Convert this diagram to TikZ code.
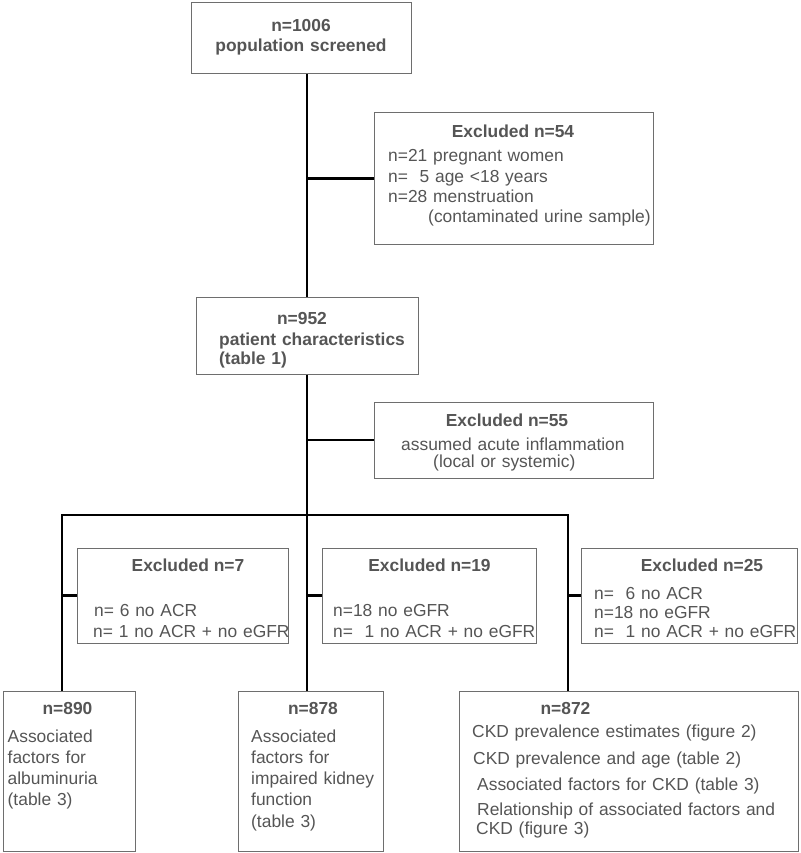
\documentclass[tikz,border=0pt]{standalone}
\usepackage{fontspec}
\setmainfont{Liberation Sans}
\usepackage{xcolor}
\usepackage{tikz}

\definecolor{txtgray}{HTML}{555555}
\definecolor{boxgray}{HTML}{6E6E6E}

\begin{document}
\begin{tikzpicture}[x=1pt, y=-1pt,
  box/.style={draw=boxgray, line width=1pt, inner sep=0pt},
  txt/.style={text=txtgray, inner sep=0pt, font=\fontsize{17.4}{20.3}\selectfont},
  body/.style={txt, anchor=base west, align=left, text width=330pt},
  head/.style={txt, anchor=base, font=\fontsize{17.4}{20.3}\selectfont\bfseries},
  link/.style={line width=2.8pt}]
\useasboundingbox (0,0) rectangle (800,853);

\node[box, minimum width=220pt, minimum height=71pt] (b1006) at (301,38.5) {};
\node[box, minimum width=279pt, minimum height=131pt] (ex54) at (513.5,178.5) {};
\node[box, minimum width=222pt, minimum height=77pt] (b952) at (307,335.5) {};
\node[box, minimum width=279pt, minimum height=76pt] (ex55) at (513.5,440) {};
\node[box, minimum width=211pt, minimum height=95pt] (ex7) at (182.5,595.5) {};
\node[box, minimum width=214pt, minimum height=95pt] (ex19) at (429,595.5) {};
\node[box, minimum width=216pt, minimum height=95pt] (ex25) at (689,595.5) {};
\node[box, minimum width=132pt, minimum height=160pt] (b890) at (69,771) {};
\node[box, minimum width=145pt, minimum height=160pt] (b878) at (310.5,771) {};
\node[box, minimum width=339pt, minimum height=160pt] (b872) at (628.5,771) {};

\node[head, text width=220pt, align=center, font=\fontsize{17.4}{20}\selectfont\bfseries] (t1006) at (301,32) {n=1006\\population screened};

\node[head] (ex54h) at (513,138) {Excluded n=54};
\node[body] (ex54t) at (388,162) {n=21 pregnant women\\n=\ \ 5 age <18 years\\n=28 menstruation\\\hspace*{40pt}(contaminated urine sample)};

\node[head] (b952h) at (302,324) {n=952};
\node[body, font=\fontsize{17.4}{19.5}\selectfont\bfseries] (b952t) at (219,345) {patient characteristics\\(table 1)};

\node[head] (ex55h) at (507,426) {Excluded n=55};
\node[body, font=\fontsize{17.4}{17}\selectfont] (ex55t) at (401,450) {assumed acute inflammation\\\hspace*{32pt}(local or systemic)};

\node[head] (ex7h) at (188,571) {Excluded n=7};
\node[body, font=\fontsize{17.4}{21}\selectfont] (ex7t) at (94,616) {n= 6 no ACR\\\hspace*{-1pt}n= 1 no ACR + no eGFR};

\node[head] (ex19h) at (429.5,571) {Excluded n=19};
\node[body, font=\fontsize{17.4}{21}\selectfont] (ex19t) at (333,616) {n=18 no eGFR\\n=\ \ 1 no ACR + no eGFR};

\node[head] (ex25h) at (702,571) {Excluded n=25};
\node[body, font=\fontsize{17.4}{19}\selectfont] (ex25t) at (594,599) {n=\ \ 6 no ACR\\n=18 no eGFR\\n=\ \ 1 no ACR + no eGFR};

\node[head] (b890h) at (67.5,714) {n=890};
\node[body, font=\fontsize{17.4}{21}\selectfont] (b890t) at (7.5,742) {Associated\\factors for\\albuminuria\\(table 3)};

\node[head] (b878h) at (313,714) {n=878};
\node[body, font=\fontsize{17.4}{21.3}\selectfont] (b878t) at (251,742) {Associated\\factors for\\impaired kidney\\function\\(table 3)};

\node[head] (b872h) at (565.5,714) {n=872};
\node[body, font=\fontsize{17.4}{19}\selectfont] (b872t) at (472,737) {CKD prevalence estimates (figure 2)\\[8pt]\hspace*{1pt}CKD prevalence and age (table 2)\\[7pt]\hspace*{5pt}Associated factors for CKD (table 3)\\[6pt]\hspace*{5pt}Relationship of associated factors and\\\hspace*{4pt}CKD (figure 3)};

\draw[link] (b1006.south -| b952.north) -- (b952.north);
\draw[link] (ex54.west) -- (ex54.west -| b952.north);
\draw[link] (b952.south) -- (b952.south |- b878.north);
\draw[link] (ex55.west) -- (ex55.west -| b952.south);
\coordinate (jl) at (62,515);
\coordinate (jr) at (568,515);
\draw[link] (jl |- b890.north) -- (jl) -- (jr) -- (jr |- b872.north);
\draw[link] (ex7.west) -- (ex7.west -| jl);
\draw[link] (ex19.west) -- (ex19.west -| b952.south);
\draw[link] (ex25.west) -- (ex25.west -| jr);
\end{tikzpicture}
\end{document}
